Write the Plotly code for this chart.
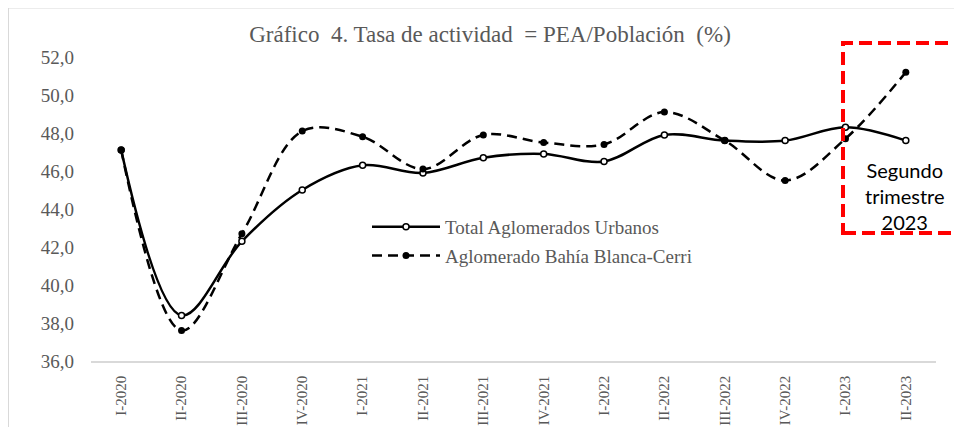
import plotly.graph_objects as go

categories = ["I-2020", "II-2020", "III-2020", "IV-2020", "I-2021", "II-2021", "III-2021",
              "IV-2021", "I-2022", "II-2022", "III-2022", "IV-2022", "I-2023", "II-2023"]
total_aglomerados = [47.1, 38.4, 42.3, 45.0, 46.3, 45.9, 46.7, 46.9, 46.5, 47.9, 47.6, 47.6, 48.3, 47.6]
bahia_blanca = [47.1, 37.6, 42.7, 48.1, 47.8, 46.1, 47.9, 47.5, 47.4, 49.1, 47.6, 45.5, 47.7, 51.2]
y_ticks = [36, 38, 40, 42, 44, 46, 48, 50, 52]
y_tick_text = ["36,0", "38,0", "40,0", "42,0", "44,0", "46,0", "48,0", "50,0", "52,0"]

SERIF = "Liberation Serif, Times New Roman, serif"
GREY = "#595959"

fig = go.Figure()
fig.add_trace(go.Scatter(
    x=categories, y=total_aglomerados, name="Total Aglomerados Urbanos",
    mode="lines+markers", legendgroup="a",
    line=dict(color="black", width=2.5, shape="spline", smoothing=1),
    marker=dict(symbol="circle", size=6, color="white", line=dict(color="black", width=1.5)),
))
fig.add_trace(go.Scatter(
    x=categories, y=bahia_blanca, name="Aglomerado Bahía Blanca-Cerri",
    mode="lines+markers", legendgroup="b",
    line=dict(color="black", width=2.5, shape="spline", smoothing=1, dash="10px,6px"),
    marker=dict(symbol="circle", size=7, color="black"),
))

# page offset from default body margin
OFF = 8
W, H = 954, 419
L, R, T, B = 83, 26, 49, 66
pw, ph = W - L - R, H - T - B

def px_x(x):  # page pixel -> paper
    return (x - OFF - L) / pw

def px_y(y):
    return (H - B - (y - OFF)) / ph

fig.update_layout(
    width=W, height=H,
    margin=dict(l=L, r=R, t=T, b=B),
    paper_bgcolor="white", plot_bgcolor="white",
    hovermode=False,
    title=dict(text="Gráfico  4. Tasa de actividad  = PEA/Población  (%)",
               xref="container", yref="container", x=(490 - OFF) / W, y=1 - (34 - OFF) / H,
               xanchor="center", yanchor="middle",
               font=dict(family=SERIF, size=23, color=GREY)),
    legend=dict(x=px_x(367), y=px_y(208), xanchor="left", yanchor="top",
                bgcolor="rgba(0,0,0,0)", borderwidth=0, tracegroupgap=1,
                itemwidth=68,
                font=dict(family=SERIF, size=19, color=GREY)),
    xaxis=dict(type="category", range=[-0.5, 13.5], showgrid=False, showline=True,
               linecolor="#d9d9d9", linewidth=1.5, ticks="", tickangle=-90,
               ticklabelstandoff=7, automargin=False,
               tickfont=dict(family=SERIF, size=15, color=GREY)),
    yaxis=dict(range=[36, 52], tickvals=y_ticks, ticktext=y_tick_text, showgrid=False,
               showline=False, zeroline=False, ticks="", ticklabelstandoff=16,
               automargin=False,
               tickfont=dict(family=SERIF, size=19, color=GREY)),
    shapes=[
        dict(type="rect", xref="paper", yref="paper",
             x0=px_x(8.5), x1=px_x(1000), y0=px_y(700), y1=px_y(8),
             line=dict(color="#d9d9d9", width=1), fillcolor="rgba(0,0,0,0)", layer="below"),
        dict(type="rect", xref="paper", yref="paper",
             x0=px_x(843), x1=px_x(1000), y0=px_y(233), y1=px_y(43),
             line=dict(color="#ff0000", width=4, dash="13px,6px"), fillcolor="rgba(0,0,0,0)"),
    ],
    annotations=[
        dict(text="Segundo<br>trimestre<br>2023", xref="paper", yref="paper",
             x=px_x(905), y=px_y(196), xanchor="center", yanchor="middle",
             showarrow=False, align="center",
             font=dict(family="Lato, Noto Sans, sans-serif", size=20, color="black")),
    ],
)

fig.write_html("out.html")
